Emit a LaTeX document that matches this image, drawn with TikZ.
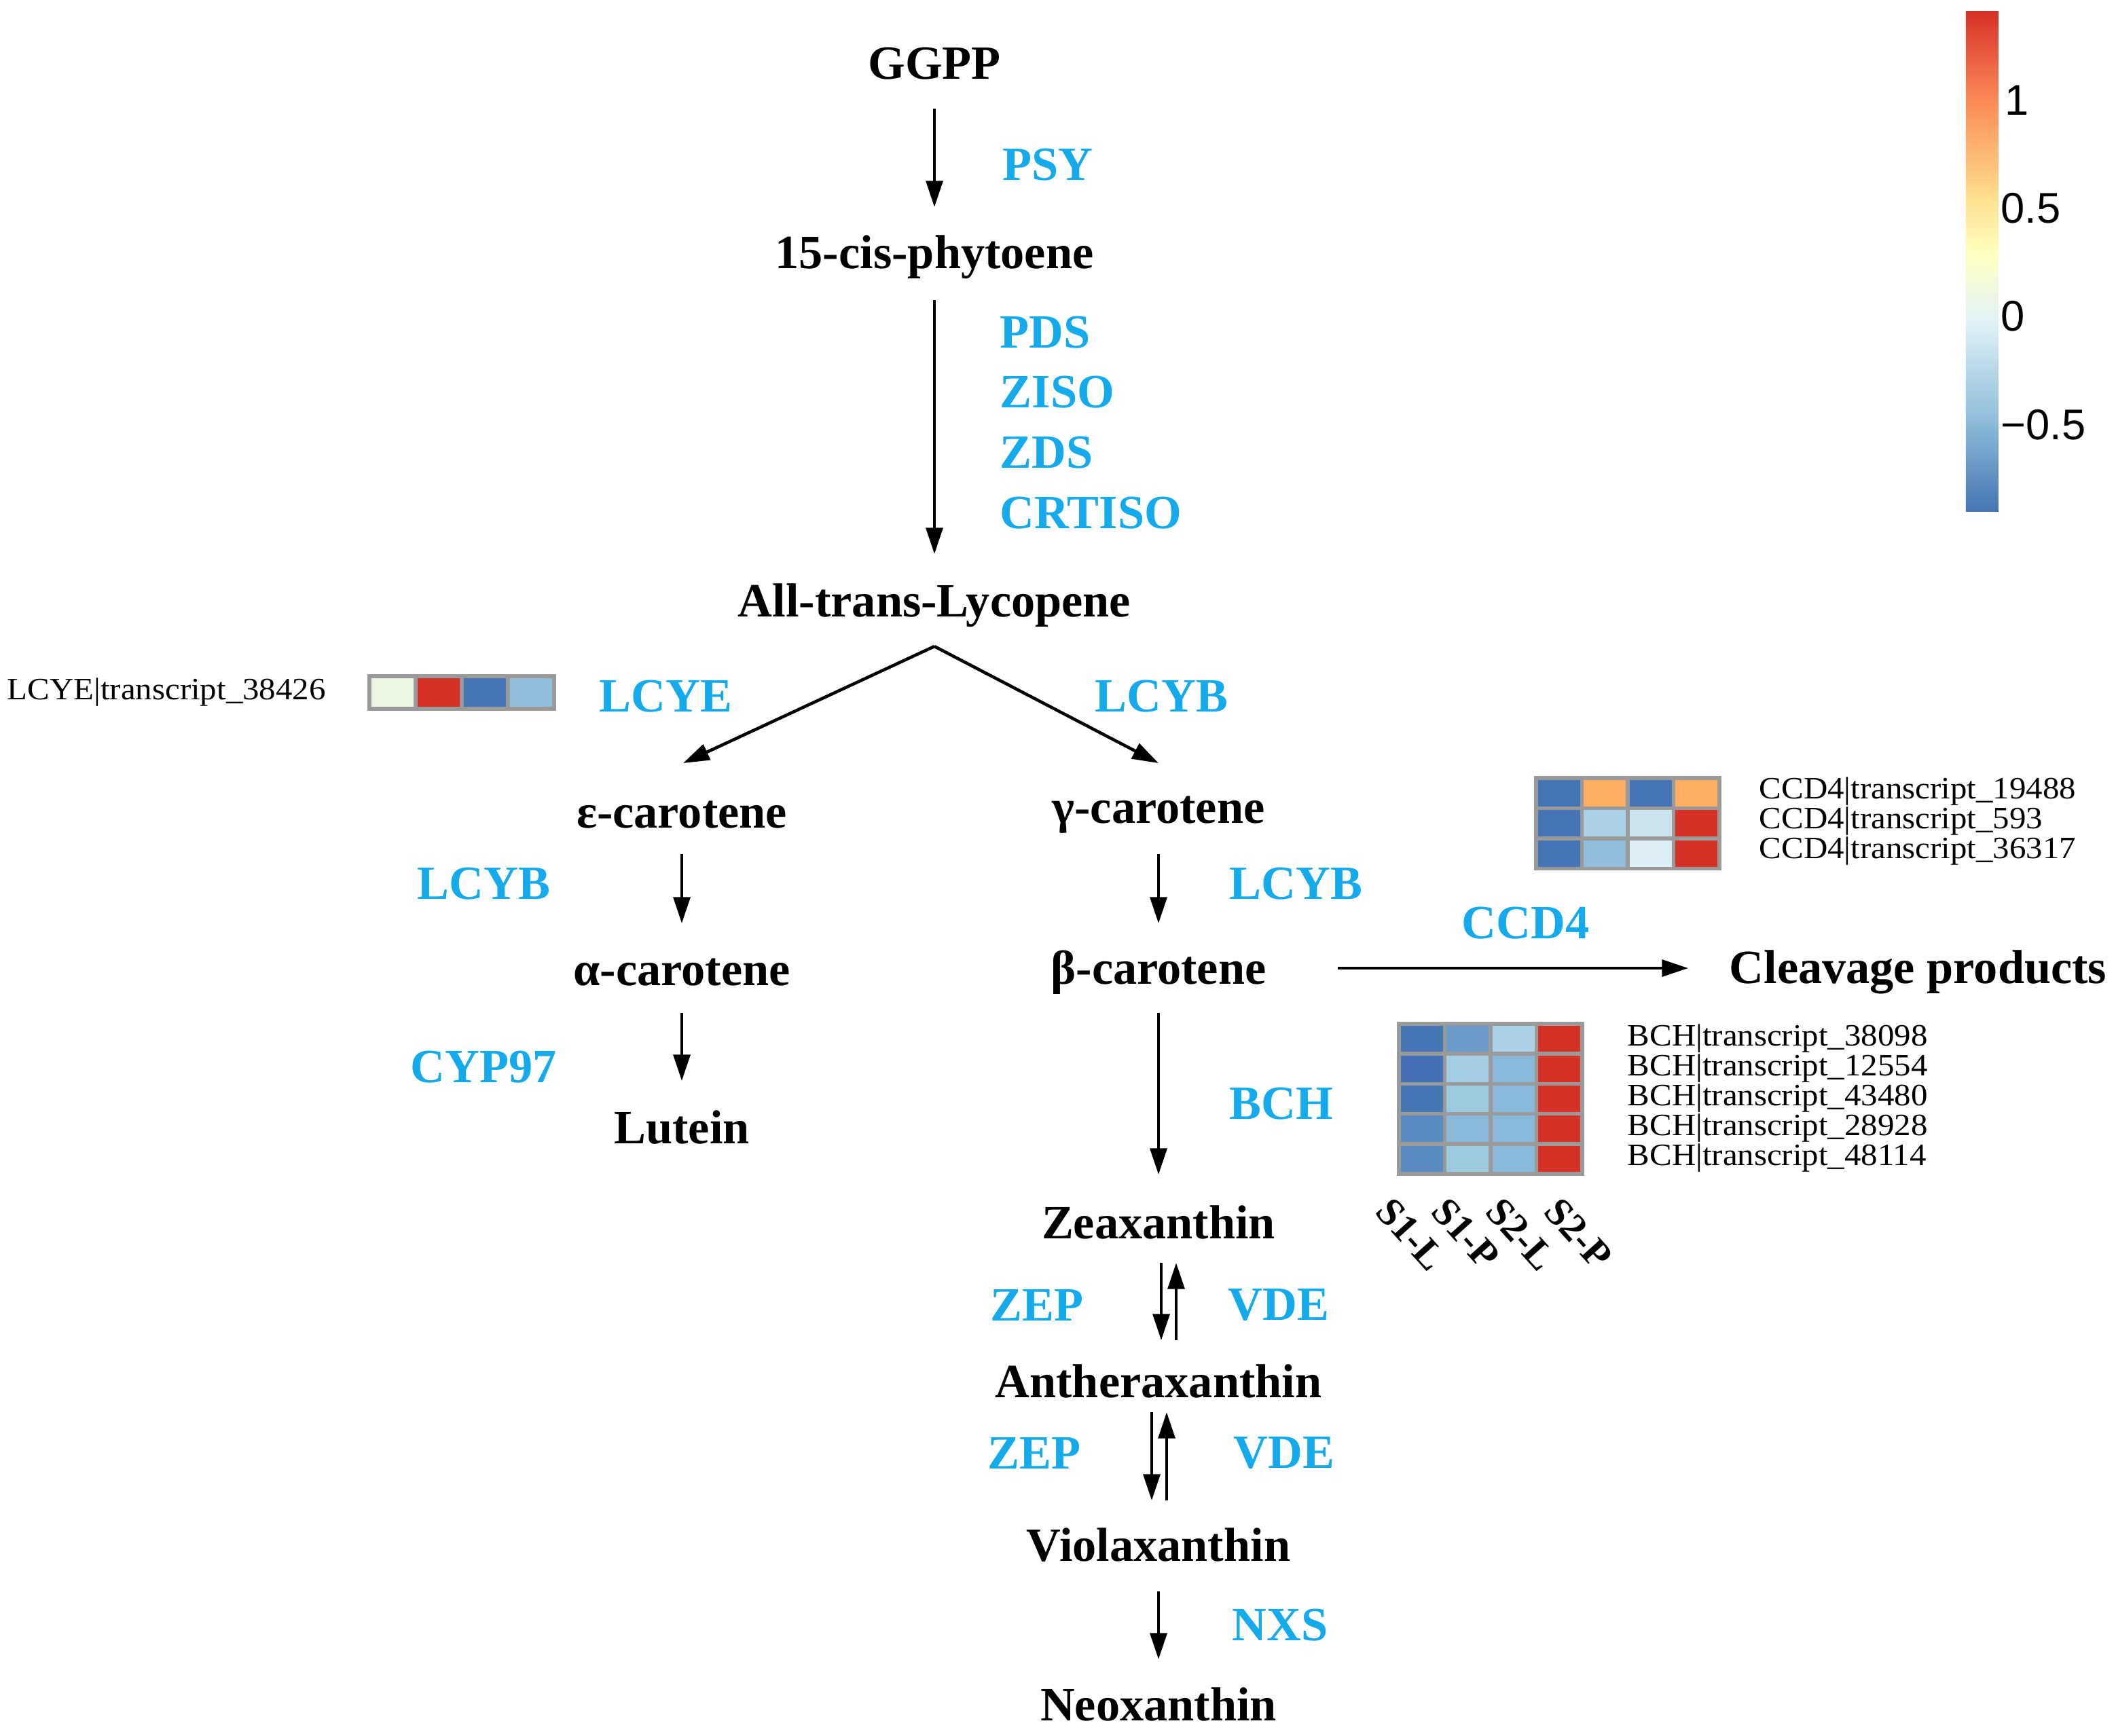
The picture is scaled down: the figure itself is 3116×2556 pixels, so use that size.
\documentclass[tikz,border=0pt]{standalone}
\usepackage{fontspec}
\setmainfont{Liberation Serif}
\newfontfamily\sansf{Liberation Sans}
\usetikzlibrary{arrows.meta}
\definecolor{enz}{RGB}{20,170,235}
\definecolor{hA}{HTML}{4575B4}
\definecolor{hOr}{HTML}{FDAE61}
\definecolor{hR}{HTML}{D73027}
\definecolor{hGn}{HTML}{EAF6E2}
\definecolor{hL1}{HTML}{91BFDB}
\definecolor{hL2}{HTML}{ABD2E6}
\definecolor{hL3}{HTML}{C9E4EF}
\definecolor{hL4}{HTML}{DDEFF6}
\definecolor{hM1}{HTML}{6A9BC9}
\definecolor{hM2}{HTML}{A6CFE5}
\definecolor{hM3}{HTML}{8AB9DA}
\definecolor{hM4}{HTML}{9CCAE1}
\definecolor{hM5}{HTML}{5B8BC5}
\definecolor{hM6}{HTML}{4470B5}
\definecolor{cgrid}{HTML}{9A9A9A}
\definecolor{cb0}{HTML}{4575B4}
\definecolor{cb1}{HTML}{91BFDB}
\definecolor{cb2}{HTML}{E0F3F8}
\definecolor{cb3}{HTML}{FFFFBF}
\definecolor{cb4}{HTML}{FEE090}
\definecolor{cb5}{HTML}{FC8D59}
\definecolor{cb6}{HTML}{D73027}
\pgfdeclareverticalshading{cbar}{0.48cm}{color(0cm)=(cb0); color(1.4cm)=(cb1); color(2.8cm)=(cb2); color(3.8cm)=(cb3); color(4.6cm)=(cb4); color(6.0cm)=(cb5); color(7.37cm)=(cb6)}
\tikzset{
  met/.style={font=\fontsize{20}{24}\selectfont\bfseries, inner sep=0pt},
  enzl/.style={font=\fontsize{20}{24}\selectfont\bfseries, text=enz, inner sep=0pt, anchor=west},
  tr/.style={font=\fontsize{13}{15}\selectfont, inner sep=0pt, anchor=west, xscale=1.07},
  cbl/.style={font=\sansf\fontsize{18}{20}\selectfont, inner sep=0pt, anchor=west},
  coll/.style={font=\fontsize{16.5}{20}\selectfont\bfseries, inner sep=0pt, anchor=north west, rotate=-48},
  arr/.style={line width=1.3pt, -{Triangle[length=11pt,width=7pt]}},
  cell/.style={draw=cgrid, line width=1.6pt}
}
\begin{document}
\begin{tikzpicture}[x=0.01cm,y=-0.01cm]
\useasboundingbox (0,0) rectangle (3116,2556);
% metabolites
\node[met] (ggpp) at (1376,94) {GGPP};
\node[met] (phy) at (1376,379) {15-cis-phytoene};
\node[met] (lyc) at (1376,892) {All-trans-Lycopene};
\node[met] (eps) at (1004,1200) {ε-carotene};
\node[met] (gam) at (1706,1200) {γ-carotene};
\node[met] (alp) at (1004,1432) {α-carotene};
\node[met] (bet) at (1706,1432) {β-carotene};
\node[met] (lut) at (1004,1660) {Lutein};
\node[met, anchor=west] (cle) at (2546,1432) {Cleavage products};
\node[met] (zea) at (1706,1800) {Zeaxanthin};
\node[met] (ant) at (1706,2034) {Antheraxanthin};
\node[met] (vio) at (1706,2276) {Violaxanthin};
\node[met] (neo) at (1706,2510) {Neoxanthin};
% enzymes
\node[enzl] (psy) at (1476,243) {PSY};
\node[enzl] (pds) at (1472,490) {PDS};
\node[enzl] (ziso) at (1472,578) {ZISO};
\node[enzl] (zds) at (1472,667) {ZDS};
\node[enzl] (crt) at (1472,756) {CRTISO};
\node[enzl] (lcye) at (882,1026) {LCYE};
\node[enzl] (lcyb1) at (1612,1026) {LCYB};
\node[enzl] (lcyb2) at (614,1302) {LCYB};
\node[enzl] (lcyb3) at (1810,1302) {LCYB};
\node[enzl] (cyp) at (604,1572) {CYP97};
\node[enzl] (ccd) at (2152,1360) {CCD4};
\node[enzl] (bch) at (1810,1626) {BCH};
\node[enzl] (zep1) at (1458,1922) {ZEP};
\node[enzl] (vde1) at (1808,1922) {VDE};
\node[enzl] (zep2) at (1454,2140) {ZEP};
\node[enzl] (vde2) at (1816,2140) {VDE};
\node[enzl] (nxs) at (1814,2394) {NXS};
% arrow end points
\coordinate (a1) at (1376,160); \coordinate (a2) at (1376,305);
\coordinate (b1) at (1376,442); \coordinate (b2) at (1376,816);
\coordinate (br) at (1376,952);
\coordinate (e1) at (1006,1124); \coordinate (g1) at (1706,1124);
\coordinate (c1) at (1004,1258); \coordinate (c2) at (1004,1360);
\coordinate (d1) at (1004,1492); \coordinate (d2) at (1004,1592);
\coordinate (f1) at (1706,1258); \coordinate (f2) at (1706,1360);
\coordinate (h1) at (1970,1426); \coordinate (h2) at (2486,1426);
\coordinate (k1) at (1706,1492); \coordinate (k2) at (1706,1730);
\coordinate (z1) at (1710,1860); \coordinate (z2) at (1710,1974);
\coordinate (z3) at (1732,1974); \coordinate (z4) at (1732,1860);
\coordinate (y1) at (1696,2080); \coordinate (y2) at (1696,2210);
\coordinate (y3) at (1718,2210); \coordinate (y4) at (1718,2080);
\coordinate (n1) at (1706,2344); \coordinate (n2) at (1706,2444);
\draw[arr] (a1) -- (a2);
\draw[arr] (b1) -- (b2);
\draw[arr] (br) -- (e1);
\draw[arr] (br) -- (g1);
\draw[arr] (c1) -- (c2);
\draw[arr] (d1) -- (d2);
\draw[arr] (f1) -- (f2);
\draw[arr] (h1) -- (h2);
\draw[arr] (k1) -- (k2);
\draw[arr] (z1) -- (z2);
\draw[arr] (z3) -- (z4);
\draw[arr] (y1) -- (y2);
\draw[arr] (y3) -- (y4);
\draw[arr] (n1) -- (n2);
% LCYE heatmap
\node[tr] (tl) at (10,1020) {LCYE|transcript\_38426};
\foreach \c [count=\i from 0] in {hGn,hR,hA,hL1}
  \filldraw[cell, fill=\c] (544+68*\i,996) rectangle ++(68,48);
% CCD4 heatmap
\foreach \row [count=\j from 0] in {{hA,hOr,hA,hOr},{hA,hL2,hL3,hR},{hA,hL1,hL4,hR}}
  \foreach \c [count=\i from 0] in \row
    \filldraw[cell, fill=\c] (2262+67.5*\i,1146+44.5*\j) rectangle ++(67.5,44.5);
\node[tr] (t1) at (2590,1166) {CCD4|transcript\_19488};
\node[tr] (t2) at (2590,1210) {CCD4|transcript\_593};
\node[tr] (t3) at (2590,1254) {CCD4|transcript\_36317};
% BCH heatmap
\foreach \row [count=\j from 0] in {{hA,hM1,hL2,hR},{hM6,hM2,hM3,hR},{hA,hM4,hM3,hR},{hM5,hM3,hM3,hR},{hM5,hM4,hM3,hR}}
  \foreach \c [count=\i from 0] in \row
    \filldraw[cell, fill=\c] (2060+67.5*\i,1508+44.2*\j) rectangle ++(67.5,44.2);
\node[tr] (u1) at (2396,1530) {BCH|transcript\_38098};
\node[tr] (u2) at (2396,1574) {BCH|transcript\_12554};
\node[tr] (u3) at (2396,1618) {BCH|transcript\_43480};
\node[tr] (u4) at (2396,1662) {BCH|transcript\_28928};
\node[tr] (u5) at (2396,1706) {BCH|transcript\_48114};
\node[coll] (s1) at (2052,1760) {S1-L};
\node[coll] (s2) at (2134,1760) {S1-P};
\node[coll] (s3) at (2214,1760) {S2-L};
\node[coll] (s4) at (2300,1760) {S2-P};
% colour bar
\node[inner sep=0pt, anchor=north west] (cbar) at (2894,15) {\pgfuseshading{cbar}};
\node[cbl] (l1) at (2952,148) {1};
\node[cbl] (l2) at (2946,307) {0.5};
\node[cbl] (l3) at (2946,466) {0};
\node[cbl] (l4) at (2946,626) {−0.5};
\end{tikzpicture}
\end{document}
